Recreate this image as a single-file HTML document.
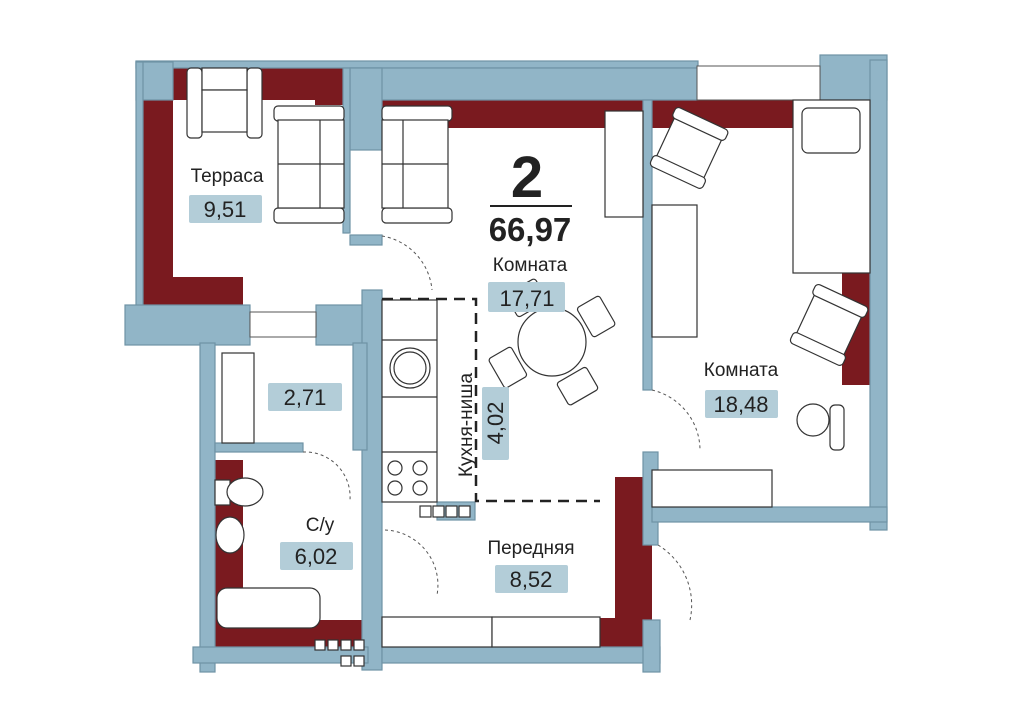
<!DOCTYPE html>
<html><head><meta charset="utf-8"><style>
html,body{margin:0;padding:0;background:#fff;width:1024px;height:725px;overflow:hidden}
svg text{font-family:"Liberation Sans",sans-serif}
</style></head><body>
<svg width="1024" height="725" viewBox="0 0 1024 725" xmlns="http://www.w3.org/2000/svg">
<g fill="#7a1a1f">
<rect x="173" y="68" width="170" height="32"/>
<rect x="143" y="68" width="30" height="239"/>
<rect x="143" y="277" width="100" height="30"/>
<rect x="315" y="68" width="28" height="37"/>
<rect x="382" y="100" width="261" height="28"/>
<rect x="652" y="100" width="142" height="28"/>
<rect x="842" y="273" width="28" height="112"/>
<rect x="615" y="477" width="37" height="143"/>
<rect x="600" y="618" width="52" height="29"/>
<rect x="215" y="460" width="28" height="175"/>
<rect x="215" y="620" width="151" height="27"/>
</g>
<g fill="#91b5c7" stroke="#6f93a5" stroke-width="1.2">
<rect x="136" y="61" width="562" height="7"/>
<rect x="136" y="62" width="37" height="38"/>
<rect x="136" y="62" width="7" height="245"/>
<rect x="350" y="68" width="348" height="32"/>
<rect x="350" y="68" width="32" height="82"/>
<rect x="343" y="68" width="7" height="165"/>
<rect x="820" y="55" width="67" height="45"/>
<rect x="870" y="60" width="17" height="470"/>
<rect x="643" y="100" width="9" height="290"/>
<rect x="643" y="452" width="15" height="93"/>
<rect x="652" y="507" width="235" height="15"/>
<rect x="125" y="305" width="125" height="40"/>
<rect x="316" y="305" width="66" height="40"/>
<rect x="350" y="235" width="32" height="10"/>
<rect x="362" y="290" width="20" height="380"/>
<rect x="200" y="343" width="15" height="329"/>
<rect x="353" y="343" width="14" height="107"/>
<rect x="215" y="443" width="88" height="9"/>
<rect x="193" y="647" width="175" height="16"/>
<rect x="382" y="647" width="278" height="16"/>
<rect x="643" y="620" width="17" height="52"/>
<rect x="437" y="502" width="38" height="18"/>
</g>
<g fill="#fff" stroke="#555" stroke-width="1">
<rect x="697" y="66" width="123" height="34"/>
<rect x="250" y="312" width="66" height="25"/>
</g>
<!-- furniture -->
<g fill="#fff" stroke="#333" stroke-width="1.2">
<rect x="187" y="68" width="15" height="70" rx="4"/><rect x="247" y="68" width="15" height="70" rx="4"/><rect x="202" y="68" width="45" height="22"/><rect x="202" y="90" width="45" height="42"/>
<rect x="274" y="106" width="70" height="15" rx="4"/><rect x="274" y="208" width="70" height="15" rx="4"/><rect x="278" y="120" width="66" height="88"/>
<line x1="320" y1="120" x2="320" y2="208"/><line x1="278" y1="164" x2="344" y2="164"/>
<rect x="382" y="106" width="70" height="15" rx="4"/><rect x="382" y="208" width="70" height="15" rx="4"/><rect x="382" y="120" width="66" height="88"/>
<line x1="403" y1="120" x2="403" y2="208"/><line x1="382" y1="164" x2="448" y2="164"/>
<rect x="605" y="111" width="38" height="106"/><rect x="652" y="205" width="45" height="132"/>
<rect x="793" y="100" width="77" height="173"/><rect x="802" y="108" width="58" height="45" rx="6"/>
<rect x="382" y="300" width="55" height="202"/>
<line x1="382" y1="340" x2="437" y2="340"/><line x1="382" y1="397" x2="437" y2="397"/><line x1="382" y1="452" x2="437" y2="452"/>
<circle cx="410" cy="368" r="20"/><circle cx="410" cy="368" r="16"/>
<circle cx="395" cy="468" r="7"/><circle cx="420" cy="468" r="7"/><circle cx="395" cy="488" r="7"/><circle cx="420" cy="488" r="7"/>
<g transform="rotate(-30 552 342)"><rect x="590" y="325" width="26" height="34" rx="3"/><rect x="488" y="325" width="26" height="34" rx="3"/></g>
<g transform="rotate(60 552 342)"><rect x="590" y="325" width="26" height="34" rx="3"/><rect x="488" y="325" width="26" height="34" rx="3"/></g>
<circle cx="552" cy="342" r="34"/>
<rect x="222" y="353" width="32" height="90"/>
<rect x="382" y="617" width="110" height="30"/><rect x="492" y="617" width="108" height="30"/>
<rect x="652" y="470" width="120" height="37"/>
<rect x="217" y="588" width="103" height="40" rx="10"/>
<rect x="215" y="480" width="15" height="25"/><ellipse cx="245" cy="492" rx="18" ry="14"/>
<ellipse cx="230" cy="535" rx="14" ry="18"/>
<circle cx="813" cy="420" r="16"/><rect x="830" y="405" width="14" height="45" rx="5"/>
<rect x="420" y="506" width="11" height="11"/><rect x="433" y="506" width="11" height="11"/><rect x="446" y="506" width="11" height="11"/><rect x="459" y="506" width="11" height="11"/>
<rect x="315" y="640" width="10" height="10"/><rect x="328" y="640" width="10" height="10"/><rect x="341" y="640" width="10" height="10"/><rect x="354" y="640" width="10" height="10"/>
<rect x="341" y="656" width="10" height="10"/><rect x="354" y="656" width="10" height="10"/>
</g>
<g fill="#fff" stroke="#333" stroke-width="1.2">
<g transform="rotate(25 688 148)"><rect x="663" y="120" width="52" height="55"/><rect x="660" y="115" width="58" height="12" rx="4"/><rect x="660" y="168" width="58" height="12" rx="4"/></g>
<g transform="rotate(25 828 325)"><rect x="803" y="297" width="52" height="55"/><rect x="800" y="292" width="58" height="12" rx="4"/><rect x="800" y="345" width="58" height="12" rx="4"/></g>
</g>
<g fill="none" stroke="#555" stroke-width="1" stroke-dasharray="3,3">
<path d="M382 236 A60 60 0 0 1 432 290"/><path d="M652 390 A62 62 0 0 1 700 450"/>
<path d="M385 530 A55 55 0 0 1 437 595"/><path d="M658 545 A70 70 0 0 1 690 620"/>
<path d="M303 452 A45 45 0 0 1 350 500"/>
</g>
<g fill="none" stroke="#222" stroke-width="2.5" stroke-dasharray="11,7">
<path d="M382 299 H476 V501 H600"/>
</g>
<g fill="#b3cdd8">
<rect x="189" y="195" width="73" height="28" rx="2"/>
<rect x="488" y="282" width="77" height="30" rx="2"/>
<rect x="705" y="390" width="73" height="28" rx="2"/>
<rect x="268" y="383" width="74" height="28" rx="2"/>
<rect x="482" y="387" width="27" height="73" rx="2"/>
<rect x="280" y="542" width="73" height="28" rx="2"/>
<rect x="495" y="565" width="73" height="28" rx="2"/>
</g>
<g fill="#222" font-size="19" text-anchor="middle">
<text x="227" y="182">Терраса</text>
<text x="225" y="217" font-size="22">9,51</text>
<text x="530" y="271">Комната</text>
<text x="527" y="306" font-size="22">17,71</text>
<text x="741" y="376">Комната</text>
<text x="741" y="412" font-size="22">18,48</text>
<text x="305" y="405" font-size="22">2,71</text>
<text x="320" y="531">С/у</text>
<text x="316" y="564" font-size="22">6,02</text>
<text x="531" y="554">Передняя</text>
<text x="531" y="587" font-size="22">8,52</text>
<text transform="translate(472 425) rotate(-90)">Кухня-ниша</text>
<text transform="translate(503 423) rotate(-90)" font-size="22">4,02</text>
<text x="527" y="197" font-size="58" font-weight="bold">2</text>
<text x="530" y="241" font-size="33" font-weight="bold">66,97</text>
</g>
<line x1="490" y1="206" x2="572" y2="206" stroke="#222" stroke-width="2"/>
</svg>
</body></html>
